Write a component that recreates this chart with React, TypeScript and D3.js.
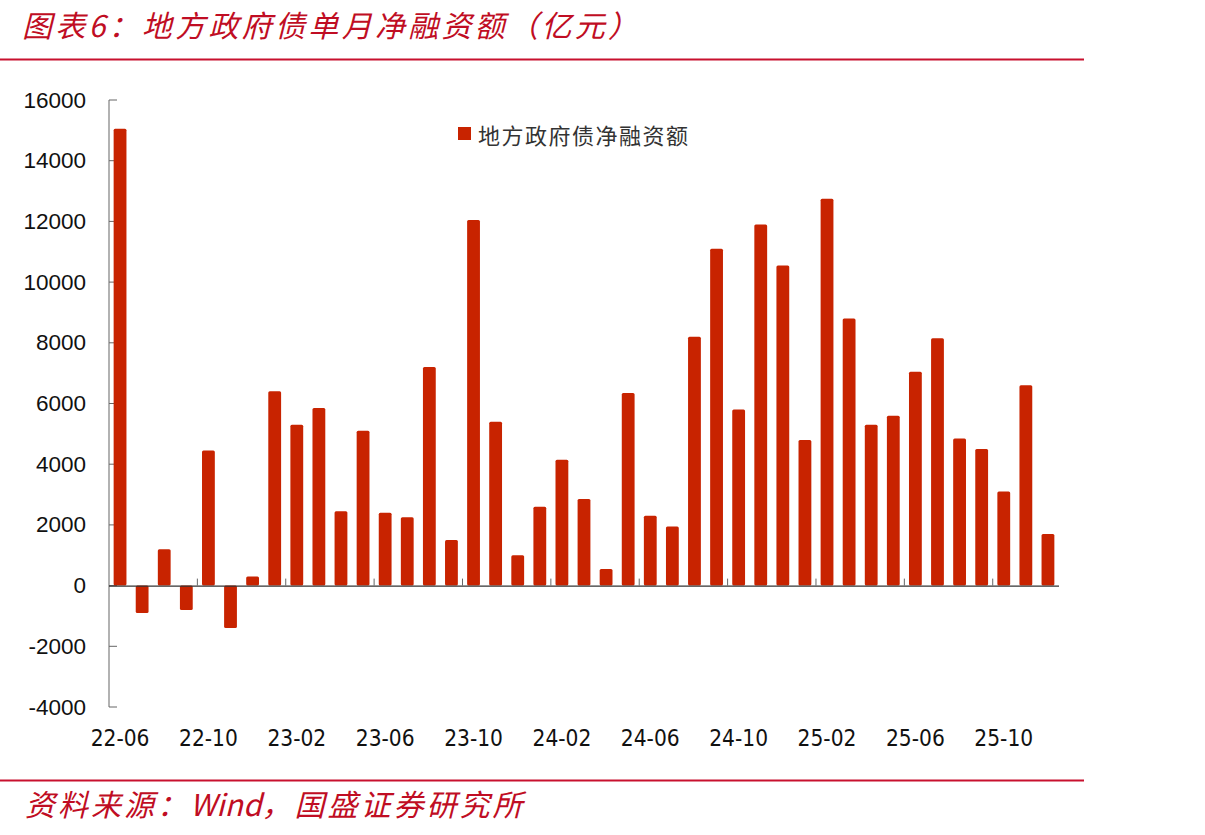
import { useEffect, useRef } from "react";
import * as d3 from "d3";

const months = [
  "22-06", "22-07", "22-08", "22-09", "22-10", "22-11", "22-12",
  "23-01", "23-02", "23-03", "23-04", "23-05", "23-06", "23-07", "23-08", "23-09", "23-10", "23-11", "23-12",
  "24-01", "24-02", "24-03", "24-04", "24-05", "24-06", "24-07", "24-08", "24-09", "24-10", "24-11", "24-12",
  "25-01", "25-02", "25-03", "25-04", "25-05", "25-06", "25-07", "25-08", "25-09", "25-10", "25-11", "25-12",
];

const netFinancing = [
  15050, -900, 1200, -800, 4450, -1400, 300,
  6400, 5300, 5850, 2450, 5100, 2400, 2250, 7200, 1500, 12050, 5400, 1000,
  2600, 4150, 2850, 550, 6350, 2300, 1950, 8200, 11100, 5800, 11900, 10550,
  4800, 12750, 8800, 5300, 5600, 7050, 8150, 4850, 4500, 3100, 6600, 1700,
];

const yTicks = [-4000, -2000, 0, 2000, 4000, 6000, 8000, 10000, 12000, 14000, 16000];
const xLabels = ["22-06", "22-10", "23-02", "23-06", "23-10", "24-02", "24-06", "24-10", "25-02", "25-06", "25-10"];

const title = "图表6：地方政府债单月净融资额（亿元）";
const legendName = "地方政府债净融资额";
const sourceParts = [
  { text: "资料来源：", spacing: 3 },
  { text: "Wind", spacing: 0 },
  { text: "，国盛证券研究所", spacing: 3 },
];

export default function App() {
  const ref = useRef<SVGSVGElement>(null);

  useEffect(() => {
    const width = 1205;
    const height = 835;
    const left = 109, right = 1059, top = 100, bottom = 707;
    const red = "#c00d23";
    const barColor = "#c82300";

    const svg = d3.select(ref.current).attr("width", width).attr("height", height);
    svg.selectAll("*").remove();

    const x = d3.scaleBand<string>()
      .domain(months)
      .range([left, right])
      .paddingInner(0.42)
      .paddingOuter(0.21);

    const y = d3.scaleLinear().domain([-4000, 16000]).range([bottom, top]);

    // header / footer
    svg.append("text")
      .attr("x", 22).attr("y", 24)
      .attr("dominant-baseline", "central")
      .attr("fill", red)
      .attr("font-family", "'Noto Sans CJK SC', sans-serif")
      .attr("font-size", 30)
      .attr("font-style", "italic")
      .attr("letter-spacing", 3.3)
      .text(title);

    svg.append("line")
      .attr("x1", 0).attr("x2", 1084).attr("y1", 59.5).attr("y2", 59.5)
      .attr("stroke", "#c8102e").attr("stroke-width", 2);

    svg.append("line")
      .attr("x1", 0).attr("x2", 1084).attr("y1", 780.5).attr("y2", 780.5)
      .attr("stroke", "#c8102e").attr("stroke-width", 2);

    svg.append("text")
      .attr("x", 25).attr("y", 803)
      .attr("dominant-baseline", "central")
      .attr("fill", red)
      .attr("font-family", "'Noto Sans CJK SC', sans-serif")
      .attr("font-size", 30)
      .attr("font-style", "italic")
      .selectAll("tspan")
      .data(sourceParts)
      .join("tspan")
      .attr("letter-spacing", d => d.spacing)
      .text(d => d.text);

    // y axis
    const yAxis = svg.append("g").attr("transform", `translate(${left},0)`);
    yAxis.append("line")
      .attr("x1", 0).attr("x2", 0).attr("y1", top).attr("y2", bottom)
      .attr("stroke", "#999").attr("stroke-width", 1.5);
    yAxis.selectAll("line.tick")
      .data(yTicks)
      .join("line")
      .attr("class", "tick")
      .attr("x1", 0).attr("x2", 8)
      .attr("y1", d => y(d)).attr("y2", d => y(d))
      .attr("stroke", "#666");
    yAxis.selectAll("text")
      .data(yTicks)
      .join("text")
      .attr("x", -23)
      .attr("y", d => y(d))
      .attr("dominant-baseline", "central")
      .attr("text-anchor", "end")
      .attr("font-family", "'Liberation Sans', Arial, sans-serif")
      .attr("font-size", 22.5)
      .attr("fill", "#111")
      .text(d => d);

    // bars
    svg.append("g")
      .selectAll("rect")
      .data(netFinancing)
      .join("rect")
      .attr("x", (_, i) => x(months[i])!)
      .attr("width", x.bandwidth())
      .attr("y", d => y(Math.max(0, d)))
      .attr("height", d => Math.abs(y(d) - y(0)))
      .attr("rx", 1.5)
      .attr("fill", barColor);

    // zero line with category ticks
    const step = x.step();
    svg.append("line")
      .attr("x1", left).attr("x2", right)
      .attr("y1", y(0) + 0.5).attr("y2", y(0) + 0.5)
      .attr("stroke", "#333").attr("stroke-width", 1.2);
    svg.append("g")
      .selectAll("line")
      .data(months.filter((_, i) => i > 0 && i % 4 === 0))
      .join("line")
      .attr("x1", d => x(d)! - (step * x.paddingInner()) / 2)
      .attr("x2", d => x(d)! - (step * x.paddingInner()) / 2)
      .attr("y1", y(0))
      .attr("y2", y(0) - 7)
      .attr("stroke", "#666");

    // x labels
    svg.append("g")
      .selectAll("text")
      .data(xLabels)
      .join("text")
      .attr("x", d => x(d)! + x.bandwidth() / 2)
      .attr("y", 738)
      .attr("dominant-baseline", "central")
      .attr("text-anchor", "middle")
      .attr("font-family", "'DejaVu Sans Condensed', 'DejaVu Sans', sans-serif")
      .attr("font-size", 22.5)
      .attr("fill", "#111")
      .text(d => d);

    // legend
    const legend = svg.append("g").attr("transform", "translate(458,127)");
    legend.append("rect").attr("width", 13).attr("height", 13).attr("fill", barColor);
    legend.append("text")
      .attr("x", 20).attr("y", 7)
      .attr("dominant-baseline", "central")
      .attr("font-family", "'Noto Sans CJK SC', sans-serif")
      .attr("font-size", 22)
      .attr("letter-spacing", 1.5)
      .attr("fill", "#333")
      .text(legendName);
  }, []);

  return (
    <svg
      ref={ref}
      style={{ position: "absolute", left: 0, top: 0, display: "block", background: "#fff" }}
    />
  );
}
